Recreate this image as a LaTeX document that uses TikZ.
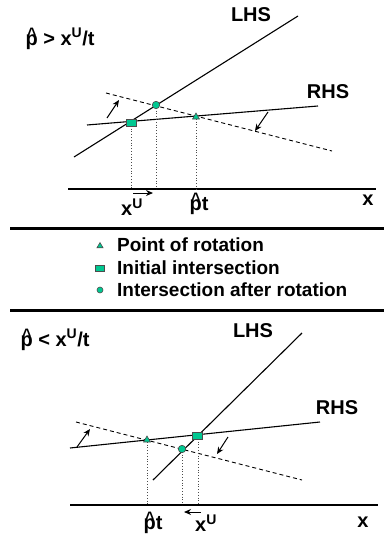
\documentclass[tikz,border=0pt]{standalone}
\usepackage{fontspec}
\setmainfont{Liberation Sans}
\usetikzlibrary{arrows.meta,shapes.geometric}
\definecolor{mk}{RGB}{0,200,145}
\newcommand{\phat}{\leavevmode\makebox[0pt][l]{\raisebox{0.24em}{\hspace{0.08em}\scalebox{0.8}[0.9]{\textasciicircum}}}p}
\tikzset{
  lbl/.style={font=\fontsize{20}{24}\selectfont\bfseries, inner sep=0pt},
  leg/.style={font=\fontsize{19}{22}\selectfont\bfseries, inner sep=0pt, anchor=west},
  curve/.style={line width=1.1pt},
  dline/.style={line width=0.9pt, dash pattern=on 4pt off 3pt},
  vline/.style={line width=0.8pt, dotted, black!70},
  axis/.style={line width=1.5pt},
  sep/.style={line width=3pt},
  arr/.style={line width=1pt, -{Stealth[length=7pt,width=6pt]}},
  sq/.style={draw=black!70, fill=mk, line width=0.6pt, minimum width=10pt, minimum height=7pt, inner sep=0pt},
  ci/.style={circle, draw=black!70, fill=mk, line width=0.6pt, minimum size=7.5pt, inner sep=0pt},
  tri/.style={regular polygon, regular polygon sides=3, draw=black!70, fill=mk, line width=0.6pt, minimum size=8pt, inner sep=0pt},
}
\begin{document}
\begin{tikzpicture}[x=1pt,y=-1pt]
\useasboundingbox (0,0) rectangle (384,536);
% ---------------- top panel ----------------
\node[lbl] (t1) at (60,39) {\phat\ > x\textsuperscript{U}/t};
\node[lbl] (lhs1) at (251,15) {LHS};
\node[lbl] (rhs1) at (328,92) {RHS};
\coordinate (L1a) at (74,157); \coordinate (L1b) at (298,16);
\coordinate (R1a) at (87,125); \coordinate (R1b) at (318,106);
\coordinate (D1a) at (106,93); \coordinate (D1b) at (332,151);
\draw[curve] (L1a) -- (L1b);
\draw[curve] (R1a) -- (R1b);
\draw[dline] (D1a) -- (D1b);
\coordinate (A1a) at (68,189); \coordinate (A1b) at (376,189);
\draw[axis] (A1a) -- (A1b);
\coordinate (sq1) at (131,123);
\coordinate (ci1) at (156,105);
\coordinate (tr1) at (196,116);
\coordinate (sq1b) at (131,189); \coordinate (ci1b) at (156,189); \coordinate (tr1b) at (196,189);
\draw[vline] (sq1) -- (sq1b);
\draw[vline] (ci1) -- (ci1b);
\draw[vline] (tr1) -- (tr1b);
\node[sq] (s1) at (sq1) {};
\node[ci] (c1) at (ci1) {};
\node[tri] (g1) at ([yshift=-1pt]tr1) {};
\coordinate (a1s) at (107,118); \coordinate (a1e) at (119,100);
\draw[arr] (a1s) -- (a1e);
\coordinate (a2s) at (268,112); \coordinate (a2e) at (255,131);
\draw[arr] (a2s) -- (a2e);
\coordinate (a3s) at (133,193); \coordinate (a3e) at (153,193);
\draw[arr] (a3s) -- (a3e);
\node[lbl] (xu1) at (132,207) {x\textsuperscript{U}};
\node[lbl] (pt1) at (199,204) {\phat t};
\node[lbl] (x1) at (368,200) {x};
% ---------------- separators and legend ----------------
\coordinate (S1a) at (10,228); \coordinate (S1b) at (384,228);
\coordinate (S2a) at (10,310); \coordinate (S2b) at (384,310);
\draw[sep] (S1a) -- (S1b);
\draw[sep] (S2a) -- (S2b);
\node[tri, minimum size=7pt] (lg1) at (100,246) {};
\node[sq, minimum width=9pt, minimum height=6pt] (lg2) at (100,268) {};
\node[ci, minimum size=6pt] (lg3) at (100,290) {};
\node[leg] (lt1) at (117,245) {Point of rotation};
\node[leg] (lt2) at (117,268) {Initial intersection};
\node[leg] (lt3) at (117,290) {Intersection after rotation};
% ---------------- bottom panel ----------------
\node[lbl] (t2) at (55,340) {\phat\ < x\textsuperscript{U}/t};
\node[lbl] (lhs2) at (253,331) {LHS};
\node[lbl] (rhs2) at (337,408) {RHS};
\coordinate (L2a) at (153,480); \coordinate (L2b) at (302,333);
\coordinate (R2a) at (70,448); \coordinate (R2b) at (320,422);
\coordinate (D2a) at (76,422); \coordinate (D2b) at (302,480);
\draw[curve] (L2a) -- (L2b);
\draw[curve] (R2a) -- (R2b);
\draw[dline] (D2a) -- (D2b);
\coordinate (A2a) at (70,505); \coordinate (A2b) at (378,505);
\draw[axis] (A2a) -- (A2b);
\coordinate (tr2) at (147,439);
\coordinate (sq2) at (197,436);
\coordinate (ci2) at (182,449);
\coordinate (tr2b) at (147,505); \coordinate (sq2b) at (198,505); \coordinate (ci2b) at (182,505);
\draw[vline] (tr2) -- (tr2b);
\draw[vline] (ci2) -- (ci2b);
\draw[vline] ([xshift=1pt]sq2) -- (sq2b);
\node[sq] (s2) at (sq2) {};
\node[ci] (c2) at (ci2) {};
\node[tri] (g2) at ([yshift=-1pt]tr2) {};
\coordinate (b1s) at (77,447); \coordinate (b1e) at (90,429);
\draw[arr] (b1s) -- (b1e);
\coordinate (b2s) at (228,437); \coordinate (b2e) at (217,454);
\draw[arr] (b2s) -- (b2e);
\coordinate (b3s) at (201,512); \coordinate (b3e) at (184,512);
\draw[arr] (b3s) -- (b3e);
\node[lbl] (pt2) at (153,523) {\phat t};
\node[lbl] (xu2) at (206,523) {x\textsuperscript{U}};
\node[lbl] (x2) at (363,522) {x};
\end{tikzpicture}
\end{document}
